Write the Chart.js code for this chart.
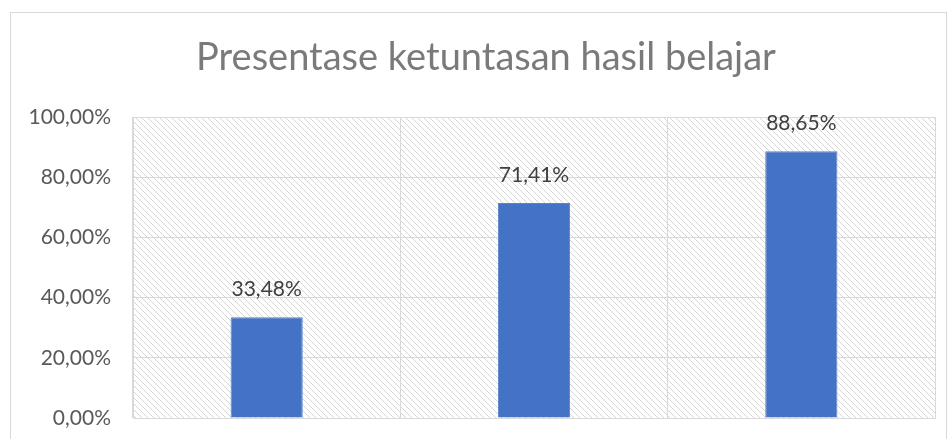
<!DOCTYPE html>
<html lang="id">
<head>
  <meta charset="UTF-8" />
  <title>Presentase ketuntasan hasil belajar</title>
  <script src="https://cdn.jsdelivr.net/npm/chart.js"></script>
  <style>
    body {
      margin: 0;
      padding: 0;
      background: #ffffff;
      overflow: hidden;
    }
    .frame {
      position: absolute;
      left: 10px;
      top: 12px;
      width: 937px;
      height: 460px;
      border: 1px solid #d9d9d9;
      box-sizing: border-box;
    }
    #ketuntasanChart {
      position: absolute;
      left: 0;
      top: 0;
      display: block;
    }
  </style>
</head>
<body>
  <div class="frame"></div>
  <canvas id="ketuntasanChart" width="950" height="439"></canvas>

  <script>
    const chartTitle = 'Presentase ketuntasan hasil belajar';
    const categories = ['Siklus 1', 'Siklus 2', 'Siklus 3'];
    const percentValues = [33.48, 71.41, 88.65];
    const tickValues = [0, 20, 40, 60, 80, 100];

    const fmt = v => v.toFixed(2).replace('.', ',') + '%';

    // diagonal hatch for the plot area
    function makeHatch(ctx) {
      const tile = document.createElement('canvas');
      tile.width = 6;
      tile.height = 6;
      const t = tile.getContext('2d');
      t.strokeStyle = '#d6d6d6';
      t.lineWidth = 1;
      t.beginPath();
      t.moveTo(-1, -1); t.lineTo(7, 7);
      t.moveTo(-1, 5); t.lineTo(1, 7);
      t.moveTo(5, -1); t.lineTo(7, 1);
      t.stroke();
      return ctx.createPattern(tile, 'repeat');
    }

    const hatchBackground = {
      id: 'hatchBackground',
      beforeDraw(chart) {
        const { ctx, chartArea: a } = chart;
        ctx.save();
        ctx.fillStyle = makeHatch(ctx);
        ctx.fillRect(a.left, a.top, a.right - a.left, a.bottom - a.top);
        ctx.restore();
      }
    };

    // title is centred on the frame, not on the canvas
    const frameTitle = {
      id: 'frameTitle',
      afterDraw(chart) {
        const { ctx } = chart;
        ctx.save();
        ctx.font = '38px Lato, "Open Sans", sans-serif';
        ctx.fillStyle = '#7a7a7a';
        ctx.textAlign = 'center';
        ctx.textBaseline = 'middle';
        ctx.fillText(chartTitle, 486, 58);
        ctx.restore();
      }
    };

    const barLabels = {
      id: 'barLabels',
      afterDatasetsDraw(chart) {
        const { ctx } = chart;
        const meta = chart.getDatasetMeta(0);
        ctx.save();
        ctx.font = '21px Lato, "Open Sans", sans-serif';
        ctx.fillStyle = '#404040';
        ctx.textAlign = 'center';
        ctx.textBaseline = 'alphabetic';
        meta.data.forEach((bar, i) => {
          ctx.fillText(fmt(percentValues[i]), bar.x, bar.y - 21);
        });
        ctx.restore();
      }
    };

    const ctx = document.getElementById('ketuntasanChart').getContext('2d');

    new Chart(ctx, {
      type: 'bar',
      data: {
        labels: categories,
        datasets: [{
          data: percentValues,
          backgroundColor: '#4472c4',
          borderColor: '#5b84cc',
          borderWidth: 1,
          categoryPercentage: 1,
          barPercentage: 0.27
        }]
      },
      options: {
        responsive: false,
        maintainAspectRatio: false,
        animation: false,
        layout: {
          padding: { left: 0, right: 15, top: 117, bottom: 21 }
        },
        plugins: {
          legend: { display: false },
          tooltip: { enabled: false },
          title: { display: false }
        },
        scales: {
          x: {
            afterFit(scale) { scale.height = 0; },
            ticks: { display: false },
            grid: { color: '#d9d9d9', drawTicks: false, offset: true },
            border: { color: '#d9d9d9' }
          },
          y: {
            min: 0,
            max: 100,
            afterFit(scale) {
              scale.width = 133;
              scale.paddingTop = 0;
              scale.paddingBottom = 0;
            },
            afterBuildTicks(scale) {
              scale.ticks = tickValues.map(v => ({ value: v }));
            },
            ticks: {
              padding: 22,
              color: '#595959',
              font: { family: 'Lato, "Open Sans", sans-serif', size: 21 },
              callback: v => fmt(v)
            },
            grid: { color: '#d9d9d9', drawTicks: false },
            border: { color: '#d9d9d9' }
          }
        }
      },
      plugins: [hatchBackground, barLabels, frameTitle]
    });
  </script>
</body>
</html>
